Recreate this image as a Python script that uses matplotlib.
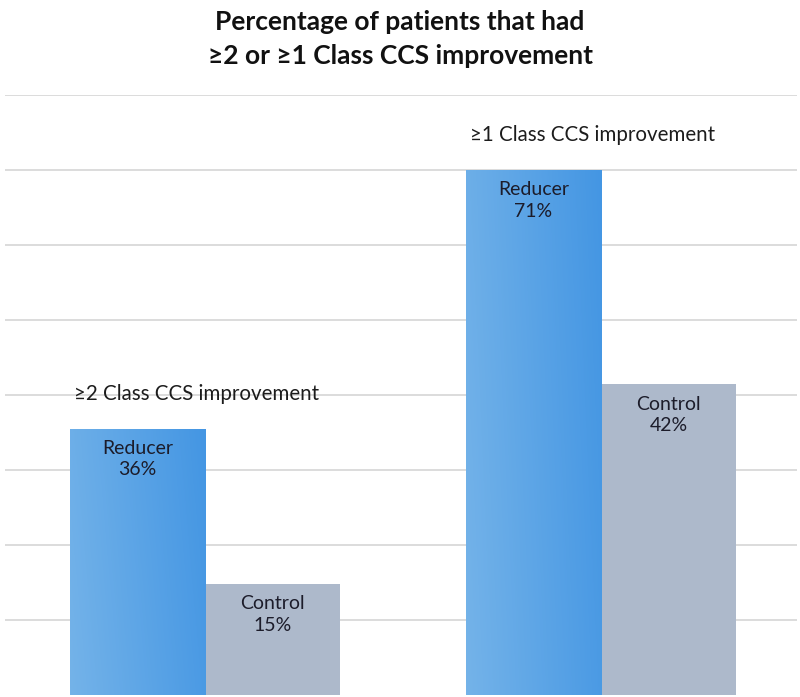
import numpy as np
import matplotlib.pyplot as plt
from matplotlib.colors import LinearSegmentedColormap

plt.rcParams['font.family'] = ['Lato', 'DejaVu Sans']

# data
groups = ['≥2 Class CCS improvement', '≥1 Class CCS improvement']
series = ['Reducer', 'Control']
reducer = [36, 71]
control = [15, 42]
title = 'Percentage of patients that had\n≥2 or ≥1 Class CCS improvement'

fig = plt.figure(figsize=(8, 6.97), dpi=100)
ax = fig.add_axes([5/800, 2/697, 792/800, 600/697])

ymax = 81.14
x = np.arange(len(groups))
w = 0.341

bars_r = ax.bar(x - w/2, reducer, w, color='#5AA3E6', zorder=2)
bars_c = ax.bar(x + w/2, control, w, color='#ADB9CB', zorder=2)

# gradient on the reducer bars (light top-left to darker right)
cmap = LinearSegmentedColormap.from_list('grad', ['#74B3E9', '#4496E3'])
gx, gy = np.meshgrid(np.linspace(0, 1, 128), np.linspace(0, 1, 128))
grad = 0.85 * gx + 0.15 * (1 - gy)
for b in bars_r:
    x0, y0 = b.get_x(), b.get_y()
    im = ax.imshow(grad, cmap=cmap, aspect='auto', zorder=3, origin='upper',
                   extent=[x0, x0 + b.get_width(), y0, y0 + b.get_height()])
    im.set_clip_path(b)

for b, v in zip(bars_r, reducer):
    ax.annotate(f'Reducer\n{v}%', (b.get_x() + b.get_width()/2, v), xytext=(0, -8),
                textcoords='offset points', ha='center', va='top', fontsize=14,
                color='#1c1c2a', linespacing=1.32, zorder=5)
for b, v in zip(bars_c, control):
    ax.annotate(f'Control\n{v}%', (b.get_x() + b.get_width()/2, v), xytext=(0, -8),
                textcoords='offset points', ha='center', va='top', fontsize=14,
                color='#1c1c2a', linespacing=1.32, zorder=5)

for b, v, g in zip(bars_r, reducer, groups):
    ax.annotate(g, (b.get_x(), v), xytext=(3, 25), textcoords='offset points',
                ha='left', va='center', fontsize=14.8, color='#1c1c1c')

ax.set_xlim(-0.505, 1.495)
ax.set_ylim(0, ymax)
ax.set_yticks(np.linspace(ymax/8, ymax, 8))
ax.grid(axis='y', color='#D9D9D9', linewidth=1.3, zorder=0)
ax.set_axisbelow(True)
ax.tick_params(left=False, bottom=False, labelleft=False, labelbottom=False)
for s in ax.spines.values():
    s.set_visible(False)

fig.text(0.5, 1 - 39/697, title, ha='center', va='center', fontsize=19,
         fontweight='bold', color='#111111', linespacing=1.45)

fig.savefig('out.png', dpi=100)
